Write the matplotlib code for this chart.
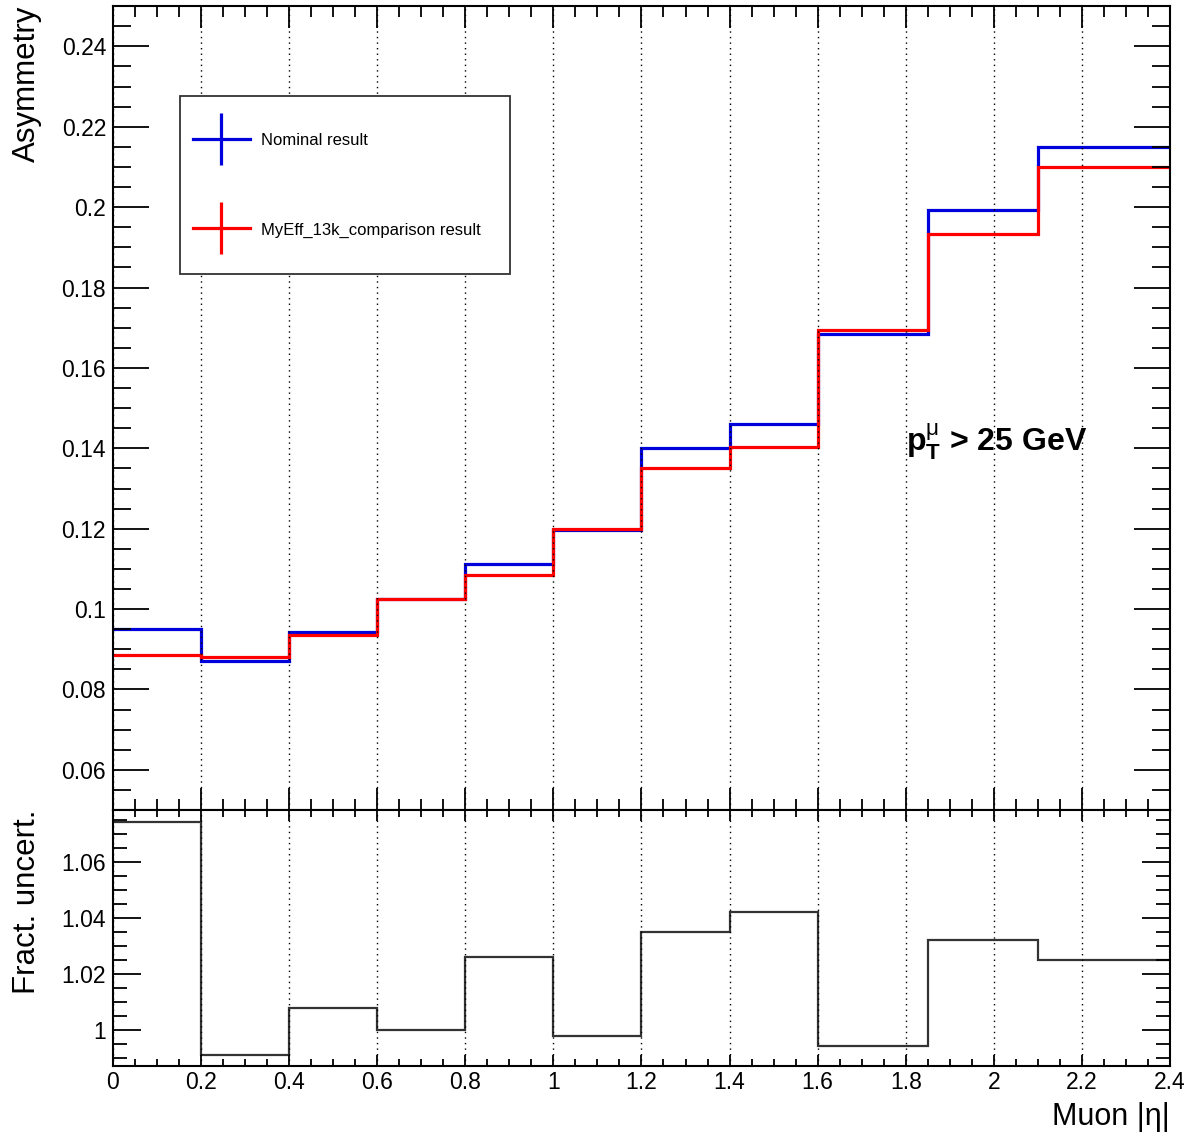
import matplotlib
matplotlib.use("Agg")
import matplotlib.pyplot as plt
from matplotlib.lines import Line2D
from matplotlib.patches import Rectangle
from matplotlib.ticker import MultipleLocator, FuncFormatter

plt.rcParams['font.family'] = ['Liberation Sans', 'DejaVu Sans']
plt.rcParams['mathtext.fontset'] = 'custom'
plt.rcParams['mathtext.rm'] = 'Liberation Sans:bold'
plt.rcParams['mathtext.it'] = 'Liberation Sans'
plt.rcParams['mathtext.bf'] = 'Liberation Sans:bold'

# 빈 경계 (muon |eta|)
edges = [0, 0.2, 0.4, 0.6, 0.8, 1.0, 1.2, 1.4, 1.6, 1.85, 2.1, 2.4]

# 비대칭 값
nominal = [0.0950, 0.0870, 0.0942, 0.1025, 0.1111, 0.1198, 0.1400, 0.1461, 0.1685, 0.1993, 0.2149]
myeff = [0.0885, 0.0880, 0.0935, 0.1025, 0.1084, 0.1200, 0.1352, 0.1404, 0.1695, 0.1933, 0.2100]

# 비율
ratio = [1.0744, 0.9910, 1.0079, 1.0000, 1.0262, 0.9978, 1.0350, 1.0422, 0.9940, 1.0320, 1.0248]

labels = ["Nominal result", "MyEff_13k_comparison result"]

fig = plt.figure(figsize=(11.89, 11.33), dpi=100)
ax = fig.add_axes([0.095, 0.285, 0.889, 0.7096])
ax2 = fig.add_axes([0.095, 0.0591, 0.889, 0.226], sharex=ax)

ax.stairs(nominal, edges, color='#0000dd', lw=2.3, baseline=None)
ax.stairs(myeff, edges, color='#ff0000', lw=2.3, baseline=None)
ax2.stairs(ratio, edges, color='#333333', lw=1.6, baseline=None)

ax.set_xlim(0, 2.4)
ax.set_ylim(0.05, 0.25)
ax2.set_ylim(0.987, 1.0787)

fmt = FuncFormatter(lambda v, p: '%g' % round(v, 4))
for a in (ax, ax2):
    a.grid(axis='x', linestyle=(0, (1, 3)), color='black', lw=1)
    a.xaxis.set_major_locator(MultipleLocator(0.2))
    a.xaxis.set_minor_locator(MultipleLocator(0.05))
    a.yaxis.set_major_locator(MultipleLocator(0.02))
    a.yaxis.set_minor_locator(MultipleLocator(0.005))
    a.yaxis.set_major_formatter(fmt)
    a.xaxis.set_major_formatter(fmt)
    a.tick_params(which='both', direction='in', top=True, right=True, labelsize=16.5, width=1.3)
    a.tick_params(axis='y', pad=5)
    for s in a.spines.values():
        s.set_linewidth(1.5)

ax.tick_params(axis='y', which='major', length=26)
ax.tick_params(axis='y', which='minor', length=13)
ax.tick_params(axis='x', which='major', length=16)
ax.tick_params(axis='x', which='minor', length=8)
ax.tick_params(axis='x', labelbottom=False)
ax2.tick_params(axis='y', which='major', length=20)
ax2.tick_params(axis='y', which='minor', length=10)
ax2.tick_params(axis='x', which='major', length=8)
ax2.tick_params(axis='x', which='minor', length=5)

ax.set_ylabel("Asymmetry", loc='top', fontsize=22.5)
ax.yaxis.set_label_coords(-0.067, 1.0)
ax2.set_ylabel("Fract. uncert.", loc='top', fontsize=22.5)
ax2.yaxis.set_label_coords(-0.067, 1.0)
ax2.set_xlabel("Muon |η|", loc='right', fontsize=22)
ax2.xaxis.set_label_coords(1.0, -0.14)

ax.text(1.8, 0.1415, r'$\mathbf{p}_{\mathbf{T}}^{\mu}$ > 25 GeV', fontsize=23, fontweight='bold', ha='left', va='center')

# 범례 상자
ax.add_patch(Rectangle((0.063, 0.667), 0.313, 0.221, transform=ax.transAxes, facecolor='white',
                       edgecolor='#333333', lw=1.3, zorder=4))
handles = []
for c in ['#0000dd', '#ff0000']:
    h1 = Line2D([], [], color=c, lw=2.3)
    h2 = Line2D([], [], color=c, lw=0, marker='|', markersize=37, markeredgewidth=2.3)
    handles.append((h1, h2))
leg = ax.legend(handles, labels, loc='center left', bbox_to_anchor=(0.063, 0.7775),
                fontsize=12, handlelength=3.4, handleheight=1.0, labelspacing=4.4,
                handletextpad=0.7, borderpad=0.8, borderaxespad=0, frameon=False)
leg.set_zorder(5)

fig.savefig("out.png", dpi=100)
